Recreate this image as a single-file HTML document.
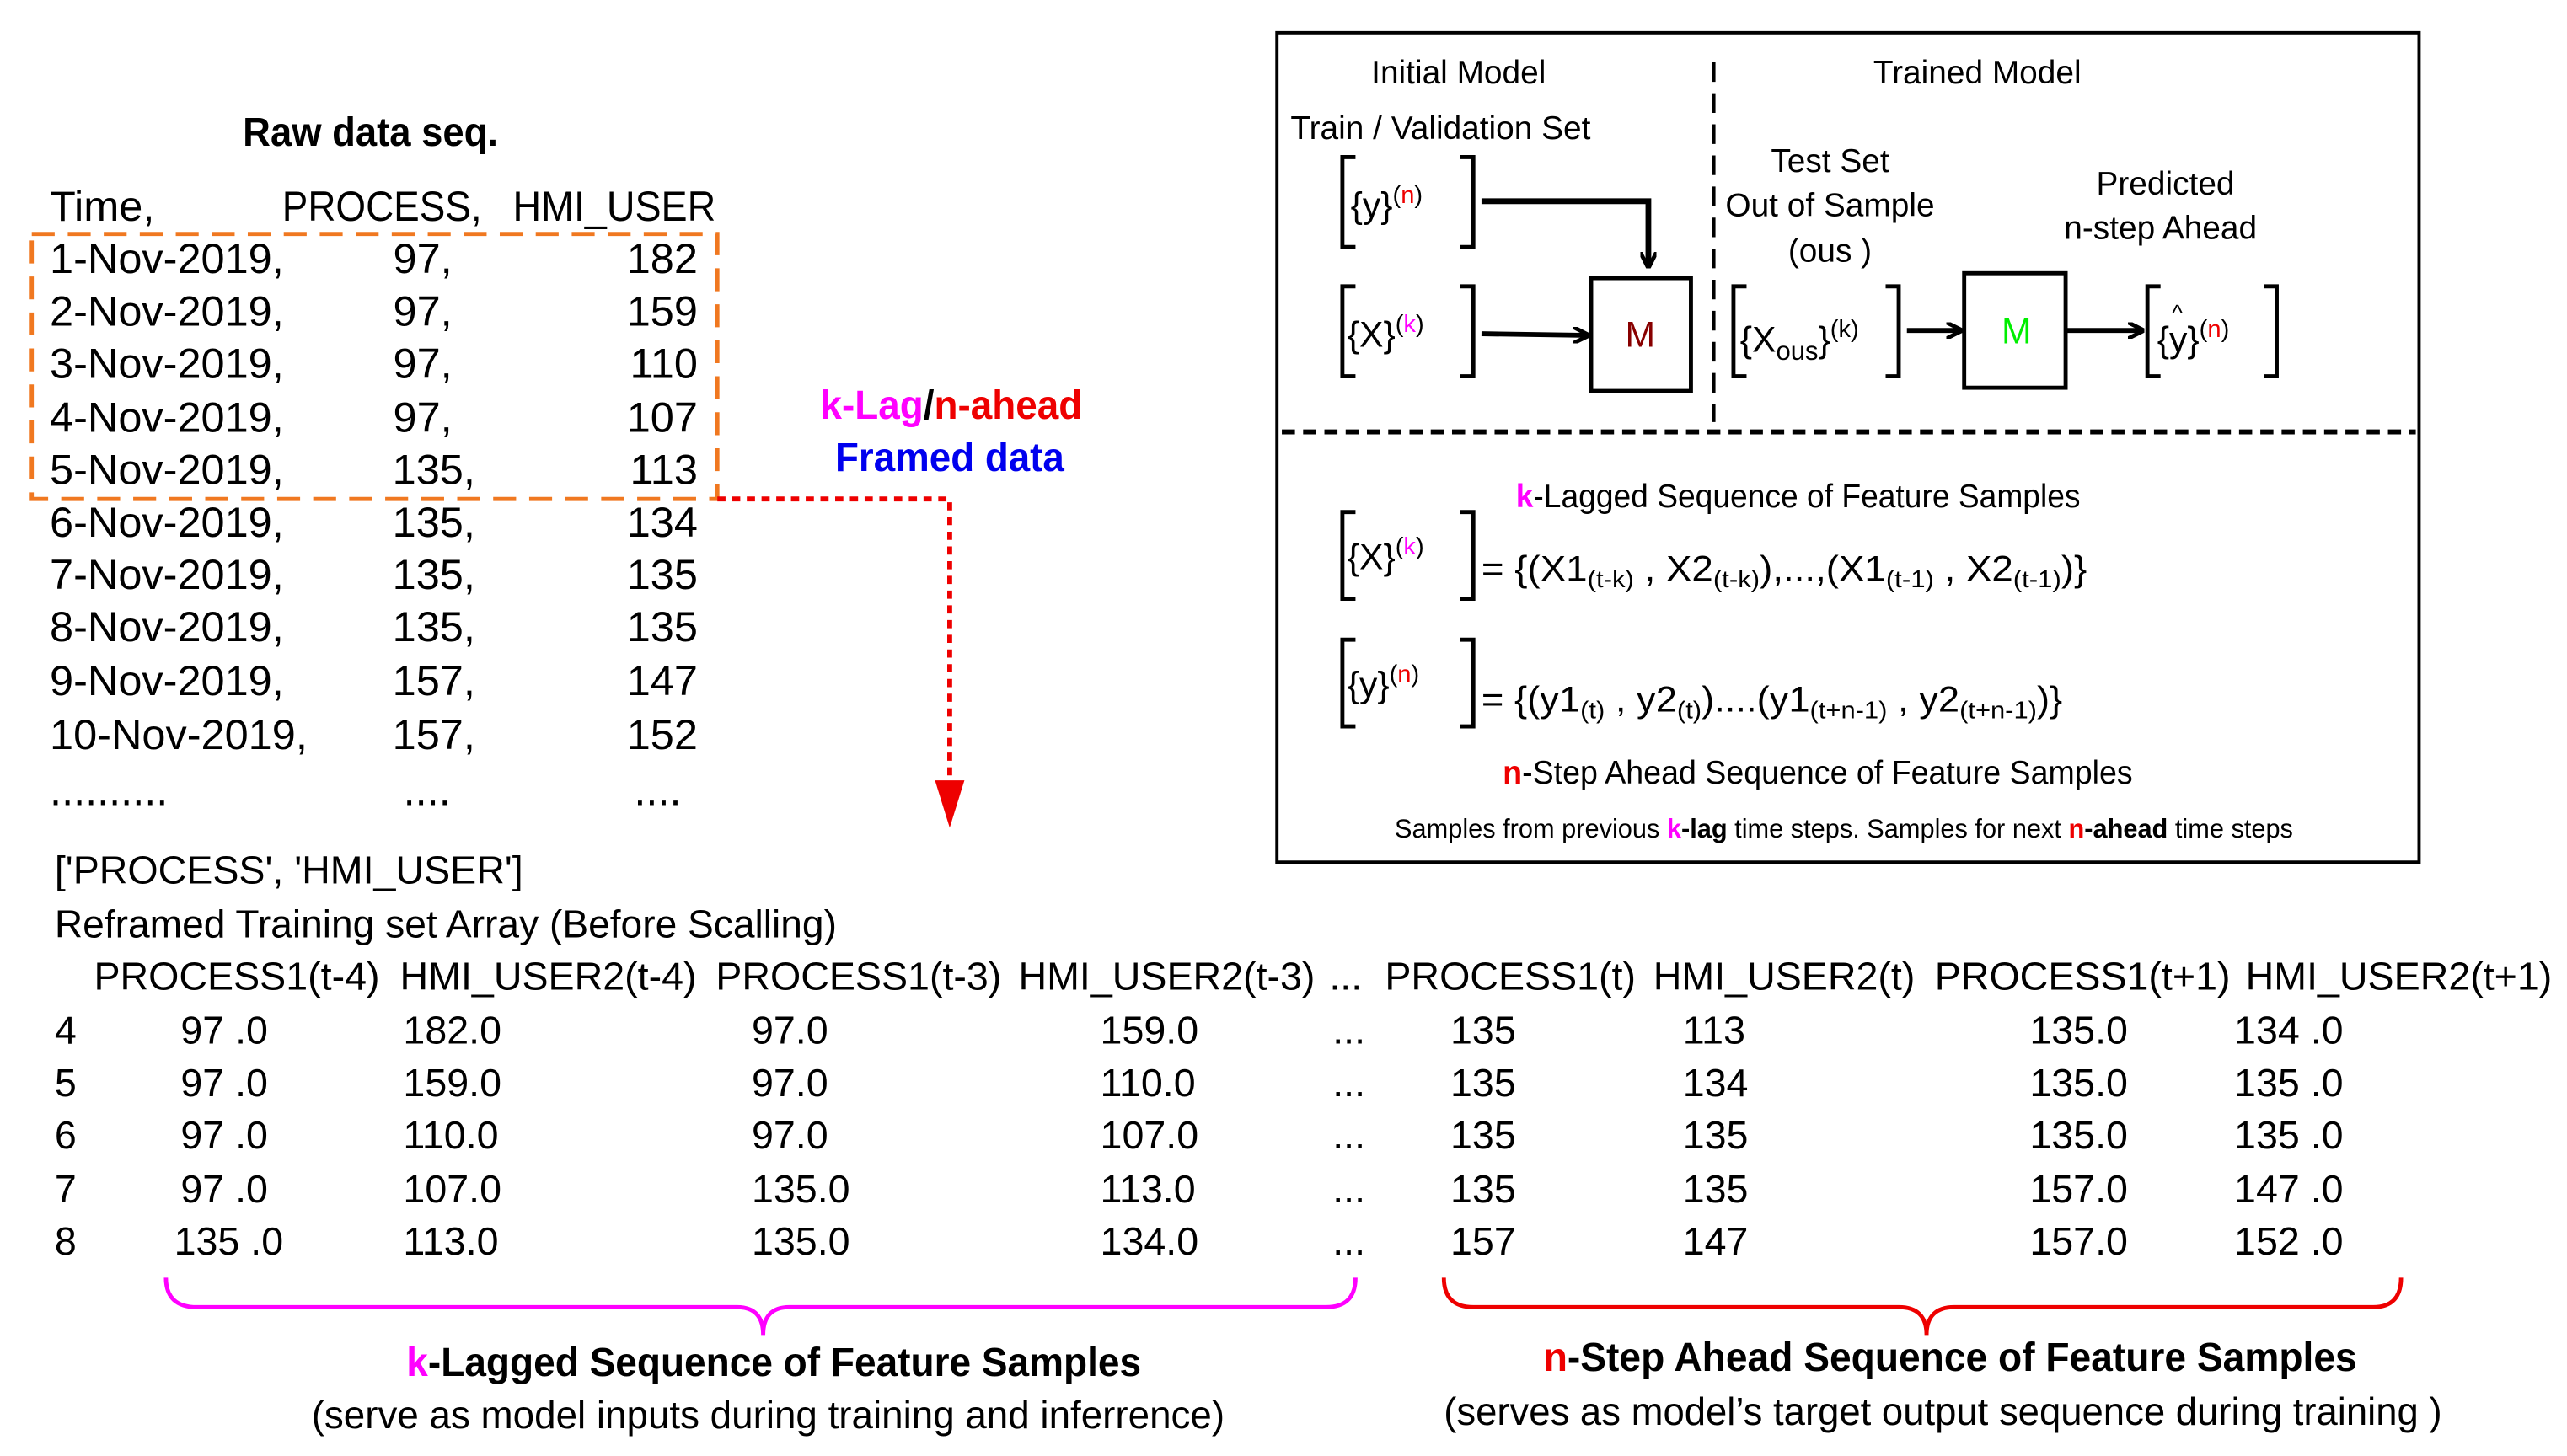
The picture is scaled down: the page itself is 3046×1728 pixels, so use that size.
<!DOCTYPE html>
<html><head><meta charset="utf-8"><style>
html,body{margin:0;padding:0;background:#fff}
svg{display:block}
text{font-family:"Liberation Sans Narrow","Liberation Sans",sans-serif;fill:#000}
.b{font-weight:bold}
</style></head><body>
<svg width="3046" height="1728" viewBox="0 0 1568 890" xmlns="http://www.w3.org/2000/svg">
<defs>
<marker id="ah" markerWidth="10" markerHeight="10" refX="9" refY="5" orient="auto" markerUnits="userSpaceOnUse"><path d="M0,0 L10,5 L0,10" fill="none" stroke="#000" stroke-width="2.5"/></marker>
</defs>
<text x="148" y="89" font-size="25" class="b" textLength="156" lengthAdjust="spacingAndGlyphs">Raw data seq.</text>
<g font-size="26">
<text x="30" y="135">Time,</text><text x="172" y="135" textLength="122" lengthAdjust="spacingAndGlyphs">PROCESS,</text><text x="313" y="135" textLength="124" lengthAdjust="spacingAndGlyphs">HMI_USER</text>
<g>
<text x="30" y="167">1-Nov-2019,</text><text x="30" y="199">2-Nov-2019,</text><text x="30" y="231">3-Nov-2019,</text><text x="30" y="264">4-Nov-2019,</text><text x="30" y="296">5-Nov-2019,</text><text x="30" y="328">6-Nov-2019,</text><text x="30" y="360">7-Nov-2019,</text><text x="30" y="392">8-Nov-2019,</text><text x="30" y="425">9-Nov-2019,</text><text x="30" y="458">10-Nov-2019,</text><text x="30" y="492">..........</text>
</g>
<g text-anchor="end">
<text x="276" y="167">97,</text><text x="276" y="199">97,</text><text x="276" y="231">97,</text><text x="276" y="264">97,</text><text x="290" y="296">135,</text><text x="290" y="328">135,</text><text x="290" y="360">135,</text><text x="290" y="392">135,</text><text x="290" y="425">157,</text><text x="290" y="458">157,</text><text x="275" y="492">....</text>
<text x="426" y="167">182</text><text x="426" y="199">159</text><text x="426" y="231">110</text><text x="426" y="264">107</text><text x="426" y="296">113</text><text x="426" y="328">134</text><text x="426" y="360">135</text><text x="426" y="392">135</text><text x="426" y="425">147</text><text x="426" y="458">152</text><text x="416" y="492">....</text>
</g></g>
<rect x="19" y="143" width="419" height="162" fill="none" stroke="#f07820" stroke-width="2.5" stroke-dasharray="14,8"/>
<path d="M438,305 H580 V480" fill="none" stroke="#e00" stroke-width="3" stroke-dasharray="5,4"/>
<path d="M571,477 L589,477 L580,506 Z" fill="#e00"/>
<text x="501" y="256" font-size="25" class="b" textLength="160" lengthAdjust="spacingAndGlyphs"><tspan style="fill:#f0f">k-Lag</tspan><tspan>/</tspan><tspan style="fill:#e00">n-ahead</tspan></text>
<text x="510" y="288" font-size="25" class="b" style="fill:#00e" textLength="140" lengthAdjust="spacingAndGlyphs">Framed data</text>
<rect x="780" y="20" width="698" height="507" fill="none" stroke="#000" stroke-width="2"/>
<line x1="1047" y1="38" x2="1047" y2="258" stroke="#000" stroke-width="2" stroke-dasharray="12,7"/>
<line x1="783" y1="264" x2="1476" y2="264" stroke="#000" stroke-width="3" stroke-dasharray="8,5"/>
<g font-size="20">
<text x="891" y="51" text-anchor="middle">Initial Model</text>
<text x="880" y="85" text-anchor="middle">Train / Validation Set</text>
<text x="1208" y="51" text-anchor="middle">Trained Model</text>
<text x="1118" y="105" text-anchor="middle">Test Set</text>
<text x="1118" y="132" text-anchor="middle">Out of Sample</text>
<text x="1118" y="160" text-anchor="middle">(ous )</text>
<text x="1323" y="119" text-anchor="middle">Predicted</text>
<text x="1320" y="146" text-anchor="middle">n-step Ahead</text>
</g>
<g fill="none" stroke="#000" stroke-width="2.5">
<path d="M828,96 H820 V151 H828 M892,96 H900 V151 H892"/>
<path d="M828,175 H820 V230 H828 M892,175 H900 V230 H892"/>
<path d="M1067,175 H1059 V230 H1067 M1152,175 H1160 V230 H1152"/>
<path d="M1320,175 H1312 V230 H1320 M1383,175 H1391 V230 H1383"/>
<path d="M828,313 H820 V366 H828 M892,313 H900 V366 H892"/>
<path d="M828,391 H820 V444 H828 M892,391 H900 V444 H892"/>
<rect x="972" y="170" width="61" height="69"/>
<rect x="1200" y="167" width="62" height="70"/>
<path d="M905,123 H1007 V163" marker-end="url(#ah)" stroke-width="3.5"/>
<path d="M905,204 L970,205" marker-end="url(#ah)" stroke-width="3"/>
<path d="M1165,202 H1198" marker-end="url(#ah)" stroke-width="3"/>
<path d="M1262,202 H1309" marker-end="url(#ah)" stroke-width="3"/>
</g>
<g font-size="22">
<text x="825" y="133">{y}<tspan font-size="15" dy="-9">(</tspan><tspan font-size="15" style="fill:#e00">n</tspan><tspan font-size="15">)</tspan></text>
<text x="823" y="212">{X}<tspan font-size="15" dy="-9">(</tspan><tspan font-size="15" style="fill:#f0f">k</tspan><tspan font-size="15">)</tspan></text>
<text x="1002" y="212" text-anchor="middle" style="fill:#800">M</text>
<text x="1232" y="210" text-anchor="middle" style="fill:#0e0">M</text>
<text x="1063" y="215">{X<tspan font-size="16" dy="5">ous</tspan><tspan dy="-5">}</tspan><tspan font-size="15" dy="-9">(k)</tspan></text>
<text x="1318" y="215">{y}<tspan font-size="15" dy="-9">(</tspan><tspan font-size="15" style="fill:#e00">n</tspan><tspan font-size="15">)</tspan></text>
<text x="1327" y="196" font-size="14">^</text>
<text x="823" y="348">{X}<tspan font-size="15" dy="-9">(</tspan><tspan font-size="15" style="fill:#f0f">k</tspan><tspan font-size="15">)</tspan></text>
<text x="823" y="426">{y}<tspan font-size="15" dy="-9">(</tspan><tspan font-size="15" style="fill:#e00">n</tspan><tspan font-size="15">)</tspan></text>
<text x="905" y="355" textLength="370" lengthAdjust="spacingAndGlyphs">= {(X1<tspan font-size="15" dy="4">(t-k)</tspan><tspan dy="-4"> , X2</tspan><tspan font-size="15" dy="4">(t-k)</tspan><tspan dy="-4">),...,(X1</tspan><tspan font-size="15" dy="4">(t-1)</tspan><tspan dy="-4"> , X2</tspan><tspan font-size="15" dy="4">(t-1)</tspan><tspan dy="-4">)}</tspan></text>
<text x="905" y="435" textLength="355" lengthAdjust="spacingAndGlyphs">= {(y1<tspan font-size="15" dy="4">(t)</tspan><tspan dy="-4"> , y2</tspan><tspan font-size="15" dy="4">(t)</tspan><tspan dy="-4">)....(y1</tspan><tspan font-size="15" dy="4">(t+n-1)</tspan><tspan dy="-4"> , y2</tspan><tspan font-size="15" dy="4">(t+n-1)</tspan><tspan dy="-4">)}</tspan></text>
</g>
<text x="926" y="310" font-size="20" textLength="345" lengthAdjust="spacingAndGlyphs"><tspan style="fill:#f0f" font-weight="bold">k</tspan>-Lagged Sequence of Feature Samples</text>
<text x="918" y="479" font-size="20" textLength="385" lengthAdjust="spacingAndGlyphs"><tspan style="fill:#e00" font-weight="bold">n</tspan>-Step Ahead Sequence of Feature Samples</text>
<text x="852" y="512" font-size="16" textLength="549" lengthAdjust="spacingAndGlyphs">Samples from previous <tspan style="fill:#f0f" font-weight="bold">k</tspan><tspan font-weight="bold">-lag</tspan> time steps. Samples for next <tspan style="fill:#e00" font-weight="bold">n</tspan><tspan font-weight="bold">-ahead</tspan> time steps</text>
<g font-size="24">
<text x="33" y="540">['PROCESS', 'HMI_USER']</text>
<text x="33" y="573" textLength="478" lengthAdjust="spacingAndGlyphs">Reframed Training set Array (Before Scalling)</text>
<text x="57" y="605">PROCESS1(t-4)</text><text x="244" y="605">HMI_USER2(t-4)</text><text x="437" y="605">PROCESS1(t-3)</text><text x="622" y="605">HMI_USER2(t-3)</text><text x="812" y="605">...</text><text x="846" y="605">PROCESS1(t)</text><text x="1010" y="605">HMI_USER2(t)</text><text x="1182" y="605">PROCESS1(t+1)</text><text x="1372" y="605">HMI_USER2(t+1)</text>
<g>
<text x="33" y="638">4</text><text x="33" y="670">5</text><text x="33" y="702">6</text><text x="33" y="735">7</text><text x="33" y="767">8</text>
<text x="110" y="638">97 .0</text><text x="110" y="670">97 .0</text><text x="110" y="702">97 .0</text><text x="110" y="735">97 .0</text><text x="106" y="767">135 .0</text>
<text x="246" y="638">182.0</text><text x="246" y="670">159.0</text><text x="246" y="702">110.0</text><text x="246" y="735">107.0</text><text x="246" y="767">113.0</text>
<text x="459" y="638">97.0</text><text x="459" y="670">97.0</text><text x="459" y="702">97.0</text><text x="459" y="735">135.0</text><text x="459" y="767">135.0</text>
<text x="672" y="638">159.0</text><text x="672" y="670">110.0</text><text x="672" y="702">107.0</text><text x="672" y="735">113.0</text><text x="672" y="767">134.0</text>
<text x="814" y="638">...</text><text x="814" y="670">...</text><text x="814" y="702">...</text><text x="814" y="735">...</text><text x="814" y="767">...</text>
<text x="886" y="638">135</text><text x="886" y="670">135</text><text x="886" y="702">135</text><text x="886" y="735">135</text><text x="886" y="767">157</text>
<text x="1028" y="638">113</text><text x="1028" y="670">134</text><text x="1028" y="702">135</text><text x="1028" y="735">135</text><text x="1028" y="767">147</text>
<text x="1240" y="638">135.0</text><text x="1240" y="670">135.0</text><text x="1240" y="702">135.0</text><text x="1240" y="735">157.0</text><text x="1240" y="767">157.0</text>
<text x="1365" y="638">134 .0</text><text x="1365" y="670">135 .0</text><text x="1365" y="702">135 .0</text><text x="1365" y="735">147 .0</text><text x="1365" y="767">152 .0</text>
</g></g>
<path d="M101,781 Q101,799 120,799 H450 Q466,799 466,816 Q466,799 482,799 H810 Q828,799 828,781" fill="none" stroke="#f0f" stroke-width="2.5"/>
<path d="M882,781 Q882,799 900,799 H1160 Q1177,799 1177,816 Q1177,799 1194,799 H1450 Q1467,799 1467,781" fill="none" stroke="#e00" stroke-width="2.5"/>
<text x="248" y="841" font-size="25" class="b" textLength="449" lengthAdjust="spacingAndGlyphs"><tspan style="fill:#f0f">k</tspan>-Lagged Sequence of Feature Samples</text>
<text x="190" y="873" font-size="24" textLength="558" lengthAdjust="spacingAndGlyphs">(serve as model inputs during training and inferrence)</text>
<text x="943" y="838" font-size="25" class="b" textLength="497" lengthAdjust="spacingAndGlyphs"><tspan style="fill:#e00">n</tspan>-Step Ahead Sequence of Feature Samples</text>
<text x="882" y="871" font-size="24" textLength="610" lengthAdjust="spacingAndGlyphs">(serves as model’s target output sequence during training )</text>
</svg>
</body></html>
